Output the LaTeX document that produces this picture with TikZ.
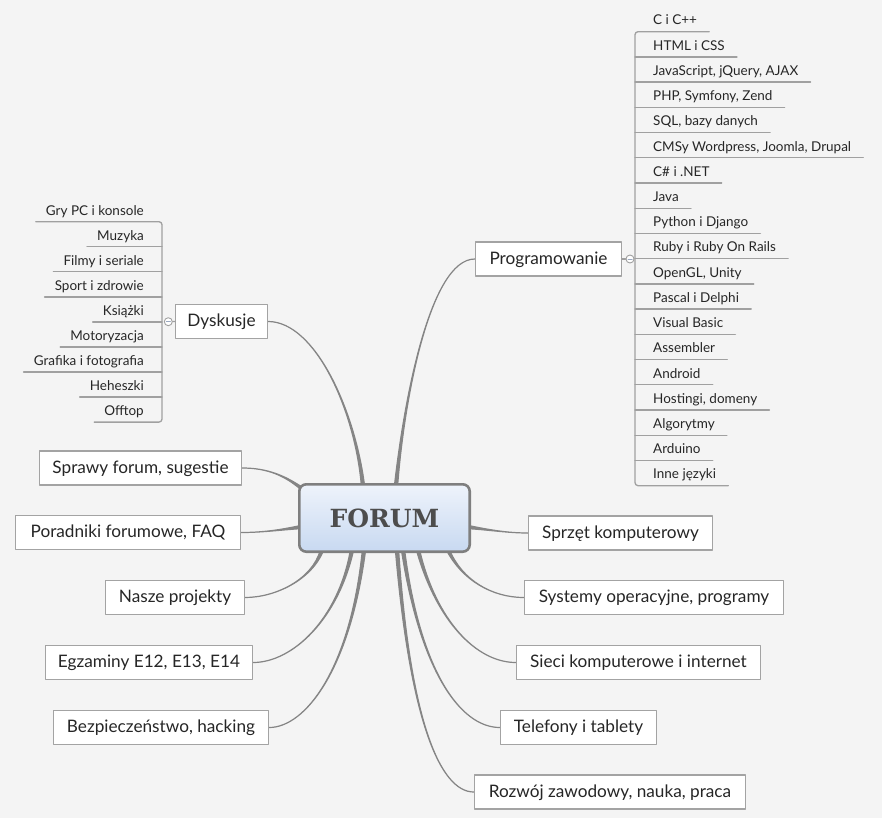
\documentclass[tikz,border=0pt]{standalone}
\usepackage{fontspec}
\setmainfont{Lato}
\newfontfamily\slabfont{DejaVu Serif}
\definecolor{bgcol}{HTML}{F4F4F4}
\definecolor{boxline}{HTML}{A3A3A3}
\definecolor{twigcol}{HTML}{A0A0A0}
\definecolor{branchcol}{HTML}{858585}
\definecolor{textcol}{HTML}{262626}
\definecolor{forumline}{HTML}{7F7F7F}
\definecolor{forumtop}{HTML}{EEF3FB}
\definecolor{forumbot}{HTML}{C8D9F1}
\definecolor{forumtext}{HTML}{4D4D4D}
\definecolor{knobminus}{HTML}{9AA8C0}
\pgfdeclarelayer{bg}
\pgfsetlayers{bg,main}

\begin{document}
\begin{tikzpicture}[x=1pt,y=-1pt,line cap=round,line join=round,
  topic/.style={draw=boxline,fill=white,line width=1.3pt,minimum height=34pt,inner xsep=6pt,
    text height=13pt,text depth=2.4pt,text=textcol,font=\fontsize{17.2}{20}\selectfont},
  leafl/.style={anchor=south east,inner xsep=10pt,inner ysep=0pt,text depth=6.5pt,
    text=textcol,font=\fontsize{13.5}{16}\selectfont},
  leafr/.style={leafl,anchor=south west,inner xsep=12pt},
  twig/.style={draw=twigcol,line width=1.3pt},
  knob/.style={circle,draw=twigcol,fill=white,line width=0.9pt,minimum size=8pt,inner sep=0pt},
  branch/.style={fill=branchcol,draw=branchcol,line width=1.2pt}]
\useasboundingbox (0,0) rectangle (882,818);
\begin{pgfonlayer}{bg}
\fill[bgcol] (0,0) rectangle (882,818);
\end{pgfonlayer}

% centre
\node[draw=forumline,line width=2.6pt,rounded corners=7pt,top color=forumtop,bottom color=forumbot,
  minimum width=170.4pt,minimum height=67.4pt,text=forumtext,
  font=\slabfont\bfseries\fontsize{25}{30}\selectfont] (forum) at (384.5,518) {FORUM};

% main topics
\node[topic,minimum width=92pt] (dysk) at (221.5,321.5) {Dyskusje};
\node[topic,minimum width=146pt] (prog) at (548.5,259) {Programowanie};
\node[topic,minimum width=202pt] (sprawy) at (140.5,468) {Sprawy forum, sugestie};
\node[topic,minimum width=225pt] (porad) at (128,532.5) {Poradniki forumowe, FAQ};
\node[topic,minimum width=139pt] (nasze) at (175,597.5) {Nasze projekty};
\node[topic,minimum width=207pt] (egz) at (149,662.5) {Egzaminy E12, E13, E14};
\node[topic,minimum width=215pt] (bezp) at (161,727.5) {Bezpieczeństwo, hacking};
\node[topic,minimum width=184pt] (sprzet) at (620.5,533) {Sprzęt komputerowy};
\node[topic,minimum width=259pt] (sys) at (654,597.5) {Systemy operacyjne, programy};
\node[topic,minimum width=244pt] (sieci) at (638.5,662.5) {Sieci komputerowe i internet};
\node[topic,minimum width=156pt] (tel) at (578.5,727.5) {Telefony i tablety};
\node[topic,minimum width=271pt] (rozwoj) at (610,792) {Rozwój zawodowy, nauka, praca};

% roots on the centre box
\coordinate (rdysk) at ([xshift=65pt,yshift=-3pt]forum.north west);
\coordinate (rprog) at ([xshift=98pt,yshift=-3pt]forum.north west);
\coordinate (rsprawy) at ([xshift=3pt,yshift=-5pt]forum.north west);
\coordinate (rporad) at ([xshift=3pt,yshift=-9pt]forum.west);
\coordinate (rsprzet) at ([xshift=-3pt,yshift=-9pt]forum.east);
\coordinate (rnasze) at ([xshift=24pt,yshift=3pt]forum.south west);
\coordinate (regz) at ([xshift=54pt,yshift=3pt]forum.south west);
\coordinate (rbezp) at ([xshift=66pt,yshift=3pt]forum.south west);
\coordinate (rrozwoj) at ([xshift=99pt,yshift=3pt]forum.south west);
\coordinate (rtel) at ([xshift=105pt,yshift=3pt]forum.south west);
\coordinate (rsieci) at ([xshift=120pt,yshift=3pt]forum.south west);
\coordinate (rsys) at ([xshift=150pt,yshift=3pt]forum.south west);

% branches
\begin{pgfonlayer}{bg}
\fill[branch] ([xshift=-1.6pt]rdysk) .. controls (355,410) and (315,321.5) .. (dysk.east) .. controls (315,321.5) and (355,410) .. ([xshift=1.6pt]rdysk) -- cycle;
\fill[branch] ([xshift=-1.6pt]rprog) .. controls (404,400) and (430,259) .. (prog.west) .. controls (430,259) and (404,400) .. ([xshift=1.6pt]rprog) -- cycle;
\fill[branch] ([yshift=-1.6pt]rsprawy) .. controls (285,476) and (268,468) .. (sprawy.east) .. controls (268,468) and (285,476) .. ([yshift=1.6pt]rsprawy) -- cycle;
\fill[branch] ([yshift=-1.6pt]rporad) .. controls (280,530) and (262,532.5) .. (porad.east) .. controls (262,532.5) and (280,530) .. ([yshift=1.6pt]rporad) -- cycle;
\fill[branch] ([yshift=-1.6pt]rsprzet) .. controls (490,530) and (508,533) .. (sprzet.west) .. controls (508,533) and (490,530) .. ([yshift=1.6pt]rsprzet) -- cycle;
\fill[branch] ([xshift=-1.6pt]rnasze) .. controls (312,580) and (275,597.5) .. (nasze.east) .. controls (275,597.5) and (312,580) .. ([xshift=1.6pt]rnasze) -- cycle;
\fill[branch] ([xshift=-1.6pt]regz) .. controls (338,620) and (292,662.5) .. (egz.east) .. controls (292,662.5) and (338,620) .. ([xshift=1.6pt]regz) -- cycle;
\fill[branch] ([xshift=-1.6pt]rbezp) .. controls (350,670) and (305,727.5) .. (bezp.east) .. controls (305,727.5) and (350,670) .. ([xshift=1.6pt]rbezp) -- cycle;
\fill[branch] ([xshift=-1.6pt]rrozwoj) .. controls (410,720) and (440,792) .. (rozwoj.west) .. controls (440,792) and (410,720) .. ([xshift=1.6pt]rrozwoj) -- cycle;
\fill[branch] ([xshift=-1.6pt]rtel) .. controls (420,670) and (460,727.5) .. (tel.west) .. controls (460,727.5) and (420,670) .. ([xshift=1.6pt]rtel) -- cycle;
\fill[branch] ([xshift=-1.6pt]rsieci) .. controls (436,620) and (476,662.5) .. (sieci.west) .. controls (476,662.5) and (436,620) .. ([xshift=1.6pt]rsieci) -- cycle;
\fill[branch] ([xshift=-1.6pt]rsys) .. controls (462,580) and (492,597.5) .. (sys.west) .. controls (492,597.5) and (462,580) .. ([xshift=1.6pt]rsys) -- cycle;
\end{pgfonlayer}

% Dyskusje subtopics
\coordinate (dspine) at (162,0);
\foreach \t [count=\i] in {Gry PC i konsole,Muzyka,Filmy i seriale,Sport i zdrowie,Książki,Motoryzacja,Grafika i fotografia,Heheszki,Offtop}
  \node[leafl] (d\i) at (154,{221.7+25.05*(\i-1)}) {\t};
\foreach \i in {2,...,8}
  \draw[twig] (d\i.south west) -- (d\i.south -| dspine);
\draw[twig,rounded corners=3pt] (d1.south west) -- (d1.south -| dspine) -- (d9.south -| dspine) -- (d9.south west);
\node[knob] (dknob) at (168.3,321.7) {};
\draw[twig] (dknob) -- (dysk.west);
\draw[draw=knobminus,line width=1pt] ([xshift=-2pt]dknob.center) -- ([xshift=2pt]dknob.center);

% Programowanie subtopics
\coordinate (pspine) at (635,0);
\foreach \t [count=\i] in {C i C++,HTML i CSS,{JavaScript, jQuery, AJAX},{PHP, Symfony, Zend},{SQL, bazy danych},
  {CMSy Wordpress, Joomla, Drupal},C\# i .NET,Java,Python i Django,Ruby i Ruby On Rails,{OpenGL, Unity},
  Pascal i Delphi,Visual Basic,Assembler,Android,{Hostingi, domeny},Algorytmy,Arduino,Inne języki}
  \node[leafr] (p\i) at (641,{31.7+25.22*(\i-1)}) {\t};
\foreach \i in {2,...,18}
  \draw[twig] (p\i.south -| pspine) -- (p\i.south east);
\draw[twig,rounded corners=3pt] (p1.south east) -- (p1.south -| pspine) -- (p19.south -| pspine) -- (p19.south east);
\node[knob] (pknob) at (630,259) {};
\draw[twig] (prog.east) -- (pknob);
\draw[draw=knobminus,line width=1pt] ([xshift=-2pt]pknob.center) -- ([xshift=2pt]pknob.center);
\end{tikzpicture}
\end{document}
